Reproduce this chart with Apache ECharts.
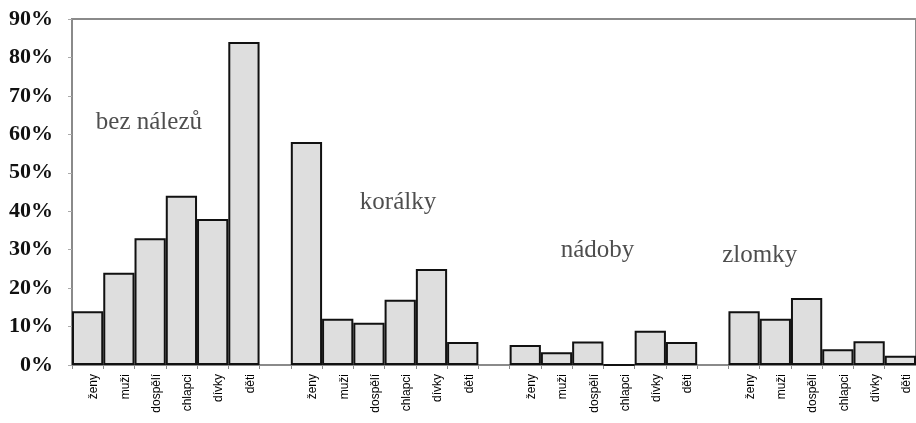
<!DOCTYPE html>
<html>
<head>
<meta charset="utf-8">
<script src="https://cdn.jsdelivr.net/npm/echarts@6/dist/echarts.min.js"></script>
<style>
    html, body { margin: 0; padding: 0; background: #fff; }
    #chart { width: 916px; height: 423px; }
</style>
</head>
<body>
<div id="chart"></div>
<script>
    // kategorie hrobů a skupiny nálezů
    var kategorie = ['ženy', 'muži', 'dospělí', 'chlapci', 'dívky', 'děti'];
    var skupiny = ['bez nálezů', 'korálky', 'nádoby', 'zlomky'];
    var bezNalezu = [14, 24, 33, 44, 38, 84];
    var koralky = [58, 12, 11, 17, 25, 6];
    var nadoby = [5.2, 3.3, 6.1, 0, 8.9, 6];
    var zlomky = [14, 12, 17.4, 4.1, 6.2, 2.4];
    var yTicks = [0, 10, 20, 30, 40, 50, 60, 70, 80, 90];
    // kotvy popisků skupin (x v šířkách sloupců, y v %)
    var popisX = [2.46, 10.43, 16.81, 22.0];
    var popisY = [63.2, 42.4, 29.9, 28.6];

    var hodnoty = [bezNalezu, koralky, nadoby, zlomky];
    var osaX = [];
    var data = [];
    for (var g = 0; g < hodnoty.length; g++) {
        if (g > 0) {
            osaX.push('');
            data.push('-');
        }
        for (var i = 0; i < kategorie.length; i++) {
            osaX.push(kategorie[i]);
            data.push(hodnoty[g][i]);
        }
    }
    var popisy = [];
    for (var k = 0; k < skupiny.length; k++) {
        popisy.push({ value: [popisX[k], popisY[k]], name: skupiny[k] });
    }

    var myChart = echarts.init(document.getElementById('chart'));
    var option = {
        animation: false,
        grid: {
            left: 72,
            top: 19,
            width: 848,
            height: 346,
            show: true,
            borderColor: '#8a8a8a',
            borderWidth: 2
        },
        xAxis: [
            {
                type: 'category',
                data: osaX,
                axisLine: { lineStyle: { color: '#8a8a8a', width: 2 } },
                axisTick: { show: true, length: 4, lineStyle: { color: '#8a8a8a' } },
                axisLabel: {
                    interval: 0,
                    rotate: 90,
                    margin: 9,
                    lineHeight: 13,
                    fontFamily: 'Liberation Sans',
                    fontSize: 12,
                    color: '#000',
                    // prázdný řádek posune svislý popisek doprava jako v předloze
                    formatter: function (v) {
                        return v ? ' \n' + v : '';
                    }
                }
            },
            {
                type: 'value',
                min: 0,
                max: osaX.length,
                show: false
            }
        ],
        yAxis: {
            type: 'value',
            min: 0,
            max: 90,
            interval: 10,
            splitLine: { show: false },
            axisLine: { show: true, lineStyle: { color: '#8a8a8a', width: 2 } },
            axisTick: { show: true, length: 4, lineStyle: { color: '#aaa' } },
            axisLabel: {
                margin: 19,
                fontFamily: 'Liberation Serif',
                fontWeight: 'bold',
                fontSize: 22,
                color: '#111',
                formatter: function (v) {
                    return yTicks.indexOf(v) >= 0 ? v + '%' : '';
                }
            }
        },
        series: [
            {
                type: 'bar',
                data: data,
                barCategoryGap: '0%',
                itemStyle: {
                    color: '#dedede',
                    borderColor: '#111',
                    borderWidth: 2
                }
            },
            {
                type: 'scatter',
                xAxisIndex: 1,
                data: popisy,
                symbolSize: 0.1,
                itemStyle: { color: 'transparent' },
                label: {
                    show: true,
                    position: 'inside',
                    formatter: '{b}',
                    fontFamily: 'Liberation Serif',
                    fontSize: 25,
                    color: '#222'
                }
            }
        ]
    };
    myChart.setOption(option);
</script>
</body>
</html>
